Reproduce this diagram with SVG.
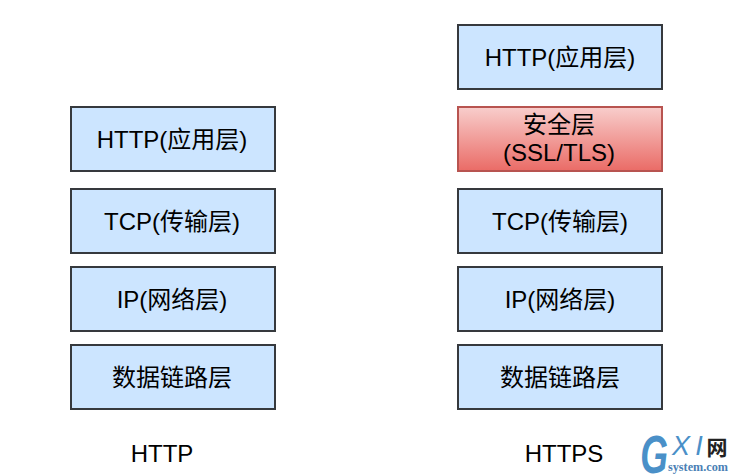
<svg xmlns="http://www.w3.org/2000/svg" width="736" height="474" viewBox="0 0 736 474">
<style>
.b{fill:#cce5ff;stroke:#36393d;stroke-width:2}
.r{fill:url(#g);stroke:#b85450;stroke-width:2}
text{font-family:"Liberation Sans","Noto Sans CJK SC",sans-serif;font-size:24px;fill:#000;text-anchor:middle}
</style>
<defs><linearGradient id="g" x1="0" y1="0" x2="0" y2="1"><stop offset="0" stop-color="#f8cecc"/><stop offset="1" stop-color="#ea6b66"/></linearGradient></defs>
<rect width="736" height="474" fill="#fff"/>
<g id="connectors"/>
<g id="http-app"><rect class="b" x="71" y="107" width="204" height="64"/><text x="172" y="148">HTTP(应用层)</text></g>
<g id="http-tcp"><rect class="b" x="71" y="189" width="204" height="64"/><text x="172" y="230">TCP(传输层)</text></g>
<g id="http-ip"><rect class="b" x="71" y="267" width="204" height="64"/><text x="172" y="308">IP(网络层)</text></g>
<g id="http-link"><rect class="b" x="71" y="345" width="204" height="64"/><text x="172" y="386">数据链路层</text></g>
<g id="https-app"><rect class="b" x="458" y="25" width="204" height="64"/><text x="560" y="66">HTTP(应用层)</text></g>
<g id="https-sec"><rect class="r" x="458" y="107" width="204" height="64"/><text x="559" y="133">安全层</text><text x="559" y="161">(SSL/TLS)</text></g>
<g id="https-tcp"><rect class="b" x="458" y="189" width="204" height="64"/><text x="560" y="230">TCP(传输层)</text></g>
<g id="https-ip"><rect class="b" x="458" y="267" width="204" height="64"/><text x="560" y="308">IP(网络层)</text></g>
<g id="https-link"><rect class="b" x="458" y="345" width="204" height="64"/><text x="560" y="386">数据链路层</text></g>
<g id="label-http"><text x="162" y="462">HTTP</text></g>
<g id="label-https"><text x="564" y="462">HTTPS</text></g>
<g id="watermark">
<text transform="translate(654 473) scale(.66 1)" style="font-size:54px;font-style:italic;font-weight:bold;fill:#4a90c8">G</text>
<text x="681" y="455" style="font-size:27px;font-style:italic;fill:#4a90c8">X</text>
<text x="699" y="455" style="font-size:27px;font-style:italic;fill:#4a90c8">I</text>
<text x="717" y="455" style="font-size:21px;font-weight:bold;fill:#222">网</text>
<text x="698" y="471" textLength="60" lengthAdjust="spacingAndGlyphs" style="font-size:12px;font-weight:bold;fill:#4a7fb5;font-family:'Liberation Serif',serif">system.com</text>
</g>
</svg>
